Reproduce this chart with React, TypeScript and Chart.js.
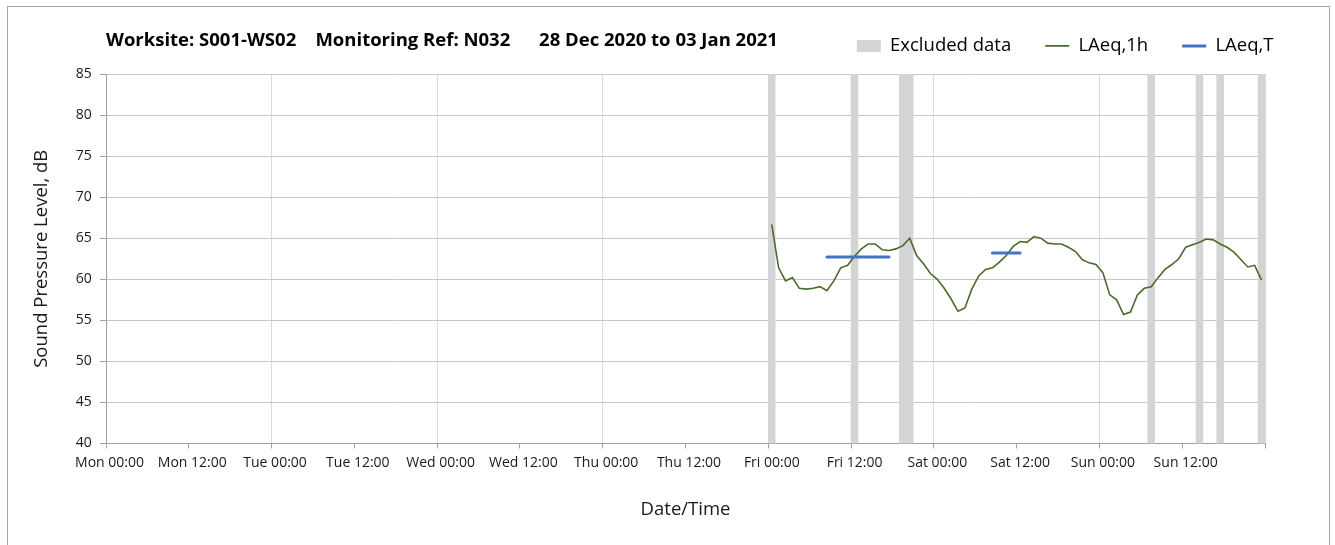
import React, { useEffect, useRef } from "react";
import { Chart, registerables } from "chart.js";

Chart.register(...registerables);

// ---- data ----
const titleText = "Worksite: S001-WS02    Monitoring Ref: N032      28 Dec 2020 to 03 Jan 2021";
const xTickLabels = [
  "Mon 00:00", "Mon 12:00", "Tue 00:00", "Tue 12:00", "Wed 00:00", "Wed 12:00", "Thu 00:00",
  "Thu 12:00", "Fri 00:00", "Fri 12:00", "Sat 00:00", "Sat 12:00", "Sun 00:00", "Sun 12:00",
];
// hours since Mon 00:00 (bar centre) of each excluded hour
const excludedHours = [96.5, 108.5, 115.5, 116.5, 151.5, 158.5, 161.5, 167.5];
// LAeq,1h hourly values from Fri 00:00 to Sun 23:00 (plotted at mid hour)
const laeq1hStart = 96.5;
const laeq1hValues = [
  66.7, 61.4, 59.8, 60.2, 58.9, 58.8, 58.9, 59.1, 58.6, 59.8, 61.4, 61.7,
  62.8, 63.7, 64.3, 64.3, 63.6, 63.5, 63.7, 64.1, 65.0, 62.9, 61.9, 60.7,
  60.0, 58.9, 57.6, 56.1, 56.5, 58.8, 60.4, 61.2, 61.4, 62.1, 62.9, 64.0,
  64.6, 64.5, 65.2, 65.0, 64.4, 64.3, 64.3, 63.9, 63.4, 62.4, 62.0, 61.8,
  60.8, 58.1, 57.5, 55.7, 56.0, 58.1, 58.9, 59.1, 60.2, 61.2, 61.8, 62.5,
  63.9, 64.2, 64.5, 64.9, 64.8, 64.3, 63.9, 63.3, 62.4, 61.5, 61.7, 59.9,
];
const laeqTStartHours = [104.5, 128.5];
const laeqTEndHours = [113.5, 132.5];
const laeqTValues = [62.7, 63.2];

const FONT = "'Open Sans', 'DejaVu Sans', sans-serif";
const GREEN = "#4a6b2c";
const BLUE = "#4472c4";
const GREY_BAND = "#d4d4d4";

const legendMover = {
  id: "legendMover",
  afterLayout(chart: any) {
    const l = chart.legend;
    if (!l) return;
    l.top = -4.35;
    l.bottom = 60;
    l.height = l.bottom - l.top;
    l.left = 0;
    l.right = 1299.5;
    l.width = l.right - l.left;
  },
};

export default function App() {
  const ref = useRef<HTMLCanvasElement>(null);
  useEffect(() => {
    if (!ref.current) return;
    const lineData = laeq1hValues.map((v, i) => ({ x: laeq1hStart + i, y: v }));
    const tData: any[] = [];
    laeqTValues.forEach((v, i) => {
      if (i > 0) tData.push({ x: (laeqTEndHours[i - 1] + laeqTStartHours[i]) / 2, y: null });
      tData.push({ x: laeqTStartHours[i], y: v });
      tData.push({ x: laeqTEndHours[i], y: v });
    });
    const barData = excludedHours.map((h) => ({ x: h, y: [40, 85] }));

    const chart = new Chart(ref.current, {
      type: "line",
      data: {
        datasets: [
          {
            type: "bar",
            label: "Excluded data",
            data: barData as any,
            backgroundColor: GREY_BAND,
            borderWidth: 0,
            barPercentage: 1,
            categoryPercentage: 1,
            order: 3,
          } as any,
          {
            type: "line",
            label: "LAeq,1h",
            data: lineData,
            borderColor: GREEN,
            borderWidth: 1.6,
            pointRadius: 0,
            tension: 0,
            order: 2,
          },
          {
            type: "line",
            label: "LAeq,T",
            data: tData,
            borderColor: BLUE,
            borderWidth: 3,
            borderCapStyle: "round",
            pointRadius: 0,
            spanGaps: false,
            order: 1,
          },
        ],
      },
      options: {
        responsive: false,
        animation: false,
        layout: { padding: { left: 0, right: 64, top: 0, bottom: 0 } },
        plugins: {
          tooltip: { enabled: false },
          title: {
            display: true,
            text: titleText,
            align: "start",
            fullSize: false,
            color: "#000",
            font: { family: FONT, size: 18.5, weight: "bold" },
            padding: { top: 22.9, bottom: 20.9 },
          },
          legend: {
            display: true,
            position: "top",
            align: "end",
            maxHeight: 1,
            labels: {
              color: "#1a1a1a",
              font: { family: FONT, size: 18.5 },
              boxWidth: 24,
              boxHeight: 0,
              padding: 34,
              generateLabels: () => [
                { text: "Excluded data", fillStyle: "rgba(0,0,0,0)", strokeStyle: GREY_BAND, lineWidth: 12, lineCap: "butt", hidden: false, datasetIndex: 0 },
                { text: "LAeq,1h", fillStyle: "rgba(0,0,0,0)", strokeStyle: GREEN, lineWidth: 1.6, lineCap: "butt", hidden: false, datasetIndex: 1 },
                { text: "LAeq,T", fillStyle: "rgba(0,0,0,0)", strokeStyle: BLUE, lineWidth: 3, lineCap: "butt", hidden: false, datasetIndex: 2 },
              ] as any,
            },
          },
        },
        scales: {
          x: {
            type: "linear",
            min: 0,
            max: 168,
            offset: false,
            afterFit: (s: any) => { s.height = 101.5; },
            border: { color: "#a0a0a0", width: 1 },
            grid: {
              offset: false,
              color: (c: any) => (c.tick && c.tick.value % 24 === 0 ? "#dadada" : "rgba(0,0,0,0)"),
              tickColor: "#a0a0a0",
              tickLength: 5,
              lineWidth: 1,
            },
            ticks: {
              stepSize: 12,
              autoSkip: false,
              maxRotation: 0,
              labelOffset: 3.5,
              padding: 6.5,
              color: "#1a1a1a",
              font: { family: FONT, size: 14 },
              callback: (v: any) => {
                const i = Math.round(Number(v) / 12);
                return i < xTickLabels.length ? xTickLabels[i] : "";
              },
            },
            title: {
              display: true,
              text: "Date/Time",
              color: "#1a1a1a",
              font: { family: FONT, size: 18.5 },
              padding: { top: 0, bottom: 23.9 },
            },
          },
          y: {
            type: "linear",
            min: 40,
            max: 85,
            afterFit: (s: any) => { s.width = 98; },
            border: { color: "#a0a0a0", width: 1 },
            grid: { color: "#c8c8c8", tickColor: "#a0a0a0", tickLength: 6 },
            ticks: {
              stepSize: 5,
              padding: 8.3,
              color: "#1a1a1a",
              font: { family: FONT, size: 14 },
            },
            title: {
              display: true,
              text: "Sound Pressure Level, dB",
              color: "#1a1a1a",
              font: { family: FONT, size: 18.5 },
              padding: { top: 22.6, bottom: 0 },
            },
          },
        },
      },
      plugins: [legendMover],
    });
    return () => chart.destroy();
  }, []);

  return (
    <div
      style={{
        position: "absolute",
        left: 7,
        top: 6,
        width: 1323,
        height: 539,
        boxSizing: "border-box",
        border: "1px solid #a6a6a6",
        borderBottom: "none",
        background: "#fff",
      }}
    >
      <canvas ref={ref} width={1321} height={538} style={{ display: "block" }} />
    </div>
  );
}
